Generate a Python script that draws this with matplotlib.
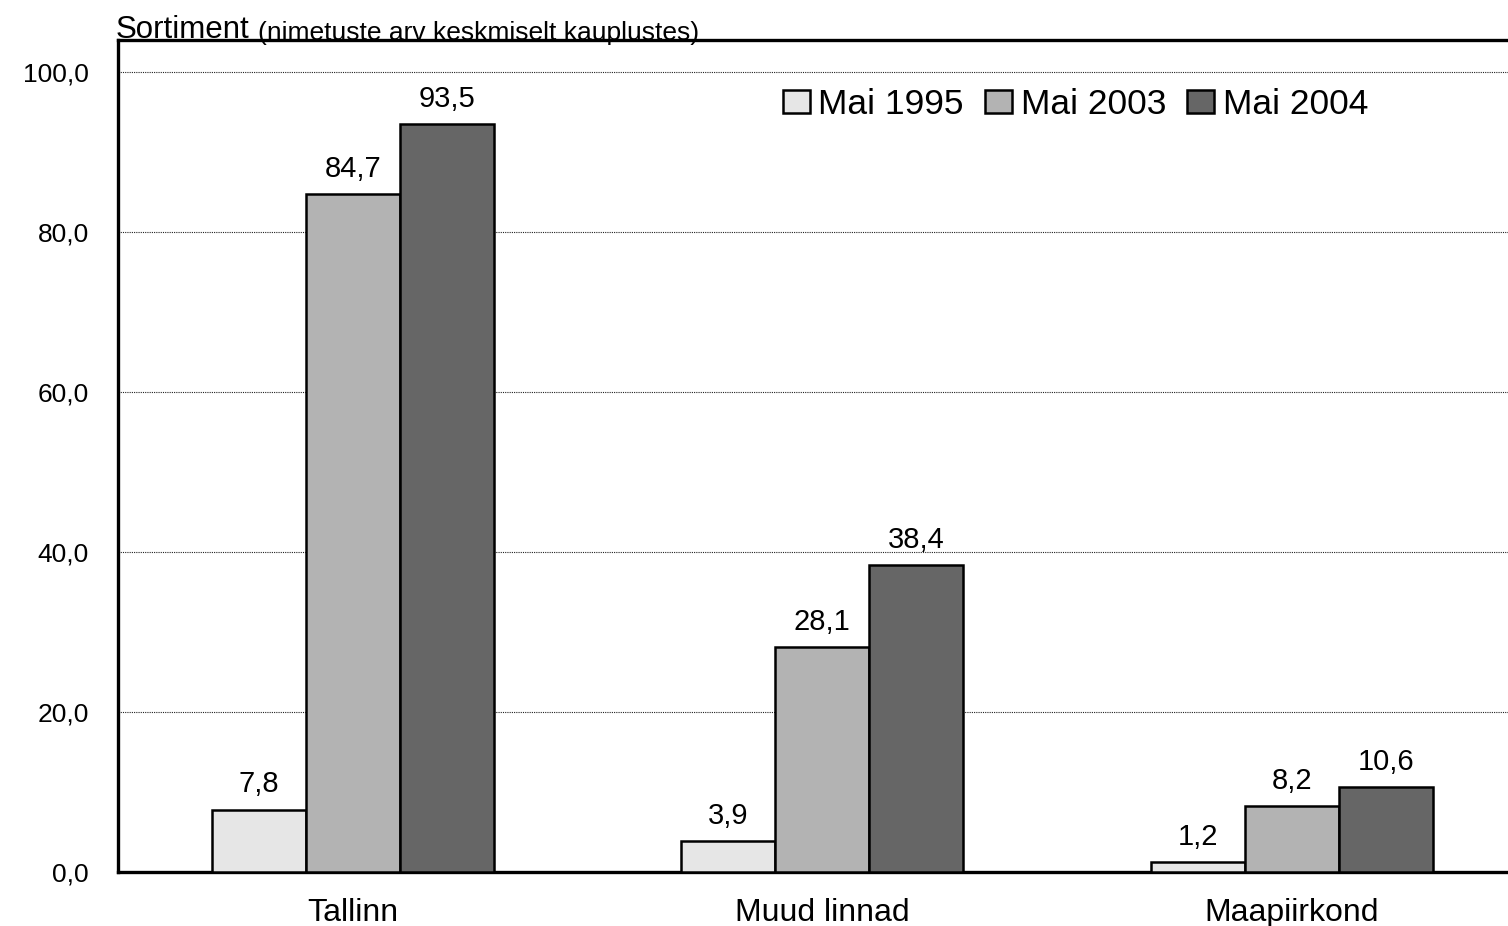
import numpy as np
import matplotlib.pyplot as plt
from matplotlib.patches import Patch

plt.rcParams['font.family'] = ['Liberation Sans', 'DejaVu Sans']

categories = ["Tallinn", "Muud linnad", "Maapiirkond"]
series = ["Mai 1995", "Mai 2003", "Mai 2004"]
mai_1995 = [7.8, 3.9, 1.2]
mai_2003 = [84.7, 28.1, 8.2]
mai_2004 = [93.5, 38.4, 10.6]
colors = ["#e6e6e6", "#b3b3b3", "#666666"]
yticks = [0, 20, 40, 60, 80, 100]

W, H = 1508, 926
fig = plt.figure(figsize=(W / 100, H / 100), dpi=100)
ax = fig.add_axes([118 / W, 54 / H, 1408.5 / W, 832 / H])

x = np.arange(len(categories))
bw = 0.2
for i, (vals, col) in enumerate(zip([mai_1995, mai_2003, mai_2004], colors)):
    pos = x + (i - 1) * bw
    ax.bar(pos, vals, bw, color=col, edgecolor="black", linewidth=1.8, zorder=3)
    for px, v in zip(pos, vals):
        ax.annotate(f"{v:.1f}".replace(".", ","), (px, v), xytext=(0, 8),
                    textcoords="offset points", ha="center", va="bottom",
                    fontsize=21)

ax.set_xlim(-0.5, 2.5)
ax.set_ylim(0, 104)
ax.set_yticks(yticks)
ax.set_yticklabels([f"{t:.1f}".replace(".", ",") for t in yticks], fontsize=19)
ax.set_xticks(x)
ax.set_xticklabels(categories, fontsize=23)
ax.tick_params(axis="y", length=0, pad=21)
ax.tick_params(axis="x", length=0, pad=19)
ax.yaxis.grid(True, color="#222222", linestyle=(0, (1, 1)), linewidth=0.8, zorder=0)
ax.set_axisbelow(True)
for s in ["left", "top", "bottom"]:
    ax.spines[s].set_linewidth(2.4)
ax.spines["right"].set_visible(False)

t1 = fig.text(116 / W, 1 - 38 / H, "Sortiment", fontsize=22.5, ha="left", va="baseline")
fig.canvas.draw()
ax.annotate("(nimetuste arv keskmiselt kauplustes)", xy=(1, 0), xycoords=t1,
            xytext=(8, 0), textcoords="offset pixels", fontsize=19,
            ha="left", va="bottom")

handles = [Patch(facecolor=c, edgecolor="black", linewidth=1.8) for c in colors]
fig.legend(handles, series, loc="center left", ncol=3,
           bbox_to_anchor=(783 / W, 1 - 104 / H), bbox_transform=fig.transFigure,
           frameon=False, fontsize=25.5, handlelength=0.75, handleheight=0.62,
           handletextpad=0.25, columnspacing=0.6, borderpad=0, borderaxespad=0)

fig.savefig("out.png", dpi=100)
